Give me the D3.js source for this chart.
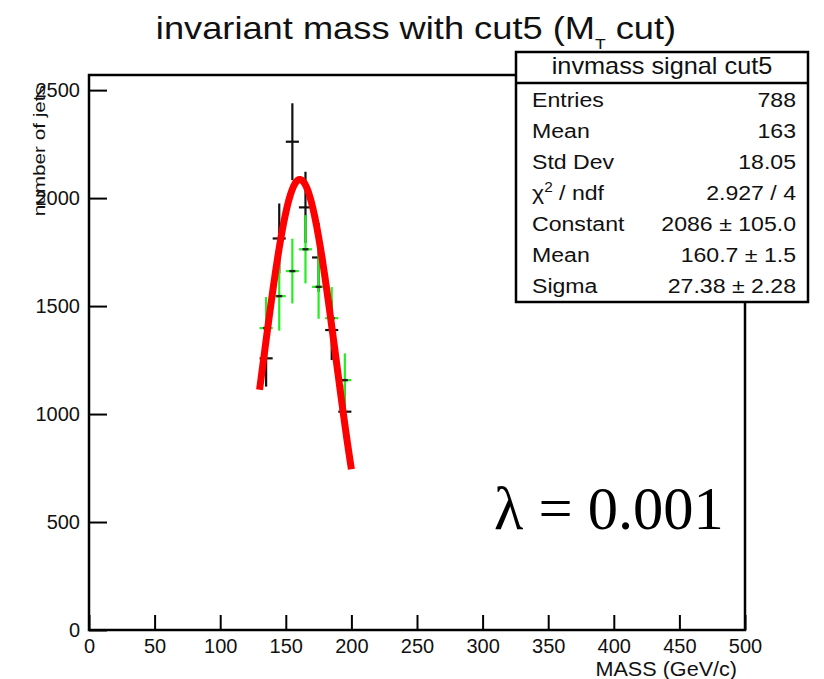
<!DOCTYPE html>
<html>
<head>
<meta charset="utf-8">
<script src="https://cdn.jsdelivr.net/npm/d3@7"></script>
<style>
  html, body { margin: 0; padding: 0; background: #fff; }
  svg { display: block; }
  text { font-family: "Liberation Sans", Arial, Helvetica, sans-serif; fill: #111; }
</style>
</head>
<body>
<svg id="chart" width="824" height="679"></svg>
<script>
// Histogram bins (GeV/c) and contents
const binCenters   = [135, 145, 155, 165, 175, 185, 195];
const binWidth     = 10;
const signalCounts = [1258, 1813, 2261, 1957, 1725, 1389, 1011];
const signalErrors = [131, 162, 178, 165, 160, 139, 125];
const greenCounts  = [1398, 1546, 1662, 1763, 1589, 1444, 1157];
const greenErrors  = [144, 160, 150, 158, 148, 144, 124];

// Gaussian fit parameters and range
const fitConstant = 2086;
const fitMean     = 160.7;
const fitSigma    = 27.38;
const fitRange    = [130, 200];

// Axis ticks
const xMajorTicks = [0, 50, 100, 150, 200, 250, 300, 350, 400, 450, 500];
const yMajorTicks = [0, 500, 1000, 1500, 2000, 2500];

// Statistics box rows
const statsTitle  = "invmass signal cut5";
const statsLabels = ["Entries", "Mean", "Std Dev", "chi2", "Constant", "Mean", "Sigma"];
const statsValues = ["788", "163", "18.05", "2.927 / 4", "2086 \u00b1 105.0", "160.7 \u00b1 1.5", "27.38 \u00b1 2.28"];

const svg = d3.select("#chart");

const frame = { left: 89, right: 745, top: 75, bottom: 630 };
const x = d3.scaleLinear().domain([0, 500]).range([frame.left, frame.right]);
const y = d3.scaleLinear().domain([0, 2570]).range([frame.bottom, frame.top]);

// Minor ticks
const xMinor = d3.range(0, 501, 10).filter(v => v % 50 !== 0);
const yMinor = d3.range(0, 2570, 100).filter(v => v % 500 !== 0);

const gx = svg.append("g").attr("transform", `translate(0,${frame.bottom})`);
gx.call(d3.axisBottom(x).tickValues(xMinor).tickSize(-8).tickFormat(""));
gx.call(d3.axisBottom(x).tickValues(xMajorTicks).tickSize(-15).tickPadding(9).tickFormat(d3.format("d")));
gx.selectAll(".domain").remove();
gx.selectAll("line").attr("stroke", "#000").attr("stroke-width", 2);
gx.selectAll("text").attr("font-size", 20);

const gy = svg.append("g").attr("transform", `translate(${frame.left},0)`);
gy.call(d3.axisLeft(y).tickValues(yMinor).tickSize(-10).tickFormat(""));
gy.call(d3.axisLeft(y).tickValues(yMajorTicks).tickSize(-18).tickPadding(9).tickFormat(d3.format("d")));
gy.selectAll(".domain").remove();
gy.selectAll("line").attr("stroke", "#000").attr("stroke-width", 2);
gy.selectAll("text").attr("font-size", 20);

// Frame
svg.append("rect")
  .attr("x", frame.left).attr("y", frame.top)
  .attr("width", frame.right - frame.left).attr("height", frame.bottom - frame.top)
  .attr("fill", "none").attr("stroke", "#000").attr("stroke-width", 2.5);

// Error-bar histogram drawer
function drawHist(counts, errors, color, cls, centerMark) {
  const g = svg.append("g").attr("class", cls);
  const pts = binCenters.map((c, i) => ({ c, v: counts[i], e: errors[i] }));
  g.selectAll("line.v").data(pts).join("line").attr("class", "v")
    .attr("x1", d => x(d.c)).attr("x2", d => x(d.c))
    .attr("y1", d => y(d.v + d.e)).attr("y2", d => y(d.v - d.e))
    .attr("stroke", color).attr("stroke-width", 2.2);
  g.selectAll("line.h").data(pts).join("line").attr("class", "h")
    .attr("x1", d => x(d.c - binWidth / 2)).attr("x2", d => x(d.c + binWidth / 2))
    .attr("y1", d => y(d.v)).attr("y2", d => y(d.v))
    .attr("stroke", color).attr("stroke-width", 2.2);
  if (centerMark) {
    g.selectAll("line.m").data(pts).join("line").attr("class", "m")
      .attr("x1", d => x(d.c) - 3).attr("x2", d => x(d.c) + 3)
      .attr("y1", d => y(d.v)).attr("y2", d => y(d.v))
      .attr("stroke", "#222").attr("stroke-width", 2.4);
  }
}
drawHist(signalCounts, signalErrors, "#111", "signal", false);
drawHist(greenCounts, greenErrors, "#22ee22", "green", true);

// Gaussian fit curve
const gauss = v => fitConstant * Math.exp(-0.5 * Math.pow((v - fitMean) / fitSigma, 2));
const curve = d3.range(fitRange[0], fitRange[1] + 0.001, 0.5).map(v => [v, gauss(v)]);
svg.append("path")
  .datum(curve)
  .attr("d", d3.line().x(d => x(d[0])).y(d => y(d[1])))
  .attr("fill", "none").attr("stroke", "#ff0000").attr("stroke-width", 7);

// Title (the subscript dips behind the stats box)
const title = svg.append("text")
  .attr("transform", "translate(416,39) scale(1.17,1)")
  .attr("text-anchor", "middle").attr("font-size", 31);
title.append("tspan").text("invariant mass with cut5 (M");
title.append("tspan").attr("font-size", 15).attr("dy", 10).text("T");
title.append("tspan").attr("dy", -10).text(" cut)");

// Axis titles
svg.append("text")
  .attr("transform", "translate(737,676) scale(1.08,1)")
  .attr("text-anchor", "end").attr("font-size", 20)
  .text("MASS (GeV/c)");

svg.append("text")
  .attr("transform", "translate(45,85) rotate(-90) scale(1.22,1)")
  .attr("text-anchor", "end").attr("font-size", 17)
  .text("number of jets");

// Statistics box
const box = { x0: 516, y0: 52, x1: 808, y1: 302, sep: 83 };
svg.append("rect")
  .attr("x", box.x0).attr("y", box.y0)
  .attr("width", box.x1 - box.x0).attr("height", box.y1 - box.y0)
  .attr("fill", "#fff").attr("stroke", "#000").attr("stroke-width", 2.5);
svg.append("line")
  .attr("x1", box.x0).attr("x2", box.x1).attr("y1", box.sep).attr("y2", box.sep)
  .attr("stroke", "#000").attr("stroke-width", 2.5);
svg.append("text")
  .attr("transform", "translate(662,74) scale(1.1,1)")
  .attr("text-anchor", "middle").attr("font-size", 23)
  .text(statsTitle);

statsLabels.forEach((lab, i) => {
  const yy = 106.5 + i * 31.1;
  const t = svg.append("text")
    .attr("transform", `translate(532,${yy}) scale(1.1,1)`)
    .attr("font-size", 21);
  if (lab === "chi2") {
    t.append("tspan").text("\u03c7");
    t.append("tspan").attr("font-size", 14).attr("dy", -8).text("2");
    t.append("tspan").attr("dy", 8).text(" / ndf");
  } else {
    t.text(lab);
  }
  svg.append("text")
    .attr("transform", `translate(796,${yy}) scale(1.1,1)`)
    .attr("text-anchor", "end").attr("font-size", 21)
    .text(statsValues[i]);
});

// Regularisation parameter annotation
svg.append("text")
  .attr("x", 494).attr("y", 529)
  .style("font-family", "'Liberation Serif', 'Times New Roman', serif")
  .style("fill", "#000")
  .attr("font-size", 60.5)
  .text("\u03bb = 0.001");
</script>
</body>
</html>
